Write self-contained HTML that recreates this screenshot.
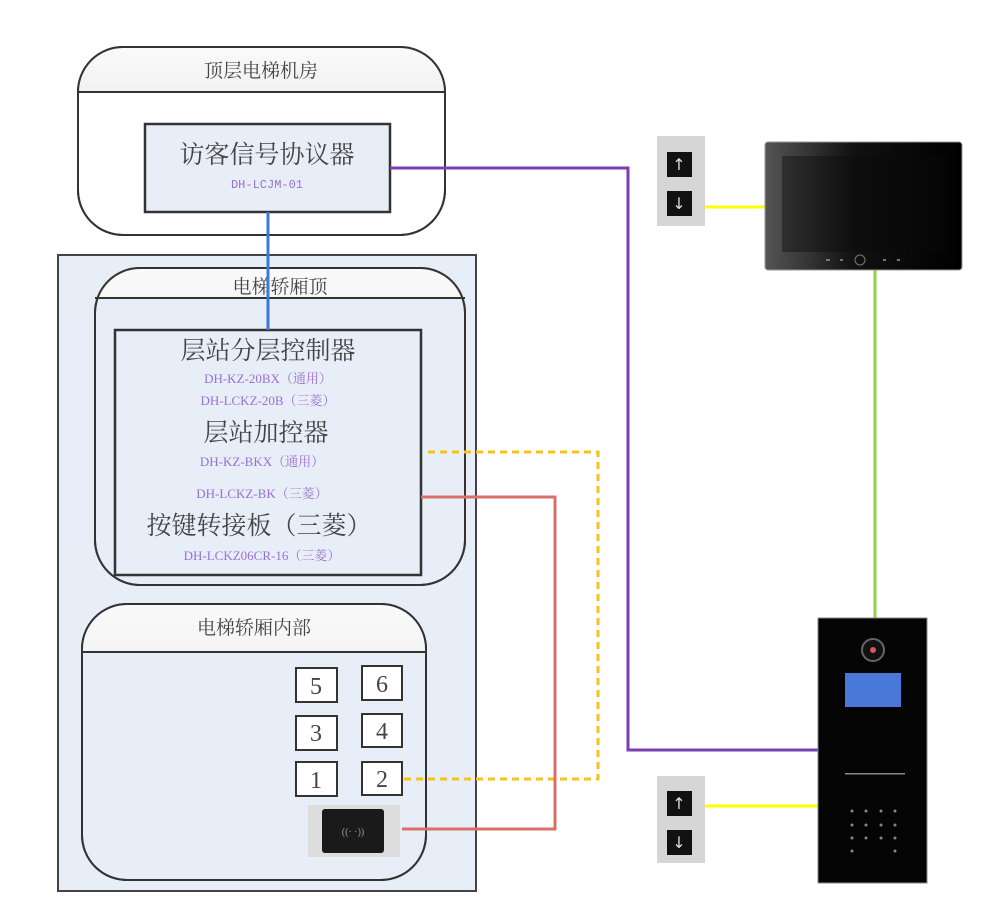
<!DOCTYPE html>
<html><head><meta charset="utf-8"><style>
body{margin:0;background:#fff;width:1001px;height:909px;overflow:hidden;font-family:"Liberation Serif","Noto Serif CJK SC",serif}
</style></head><body>
<svg width="1001" height="909" xmlns="http://www.w3.org/2000/svg" style="position:absolute;left:0;top:0">
<defs>
<linearGradient id="hg" x1="0" y1="0" x2="0" y2="1"><stop offset="0" stop-color="#fafafa"/><stop offset="1" stop-color="#d6d6d6"/></linearGradient>
<linearGradient id="mon" x1="0" y1="0" x2="1" y2="0"><stop offset="0" stop-color="#555"/><stop offset="0.45" stop-color="#111"/><stop offset="1" stop-color="#000"/></linearGradient>
<clipPath id="c1"><rect x="78" y="47" width="367" height="45"/></clipPath>
<clipPath id="c2"><rect x="95" y="268" width="370" height="30"/></clipPath>
<clipPath id="c3"><rect x="82" y="604" width="344" height="48"/></clipPath>
</defs>
<g font-family="Liberation Serif, Noto Serif CJK SC, serif">
<!-- top room -->
<rect x="78" y="47" width="367" height="188" rx="45" fill="#fff" stroke="#333" stroke-width="2"/>
<rect x="78" y="47" width="367" height="188" rx="45" fill="url(#hg)" clip-path="url(#c1)"/>
<rect x="78" y="47" width="367" height="188" rx="45" fill="none" stroke="#333" stroke-width="2"/>
<line x1="78" y1="92" x2="445" y2="92" stroke="#333" stroke-width="2"/>
<text x="261" y="77" font-size="19" text-anchor="middle" fill="#444">顶层电梯机房</text>
<rect x="145" y="124" width="245" height="88" fill="#e8eef7" stroke="#333" stroke-width="2.5"/>
<text x="267" y="163" font-size="25" text-anchor="middle" fill="#444">访客信号协议器</text>
<text x="267" y="188" font-size="12" text-anchor="middle" fill="#9a70d0" font-family="Liberation Mono, monospace">DH-LCJM-01</text>
<!-- big panel -->
<rect x="58" y="255" width="418" height="636" fill="#e7eef8" stroke="#444" stroke-width="2"/>
<rect x="95" y="268" width="370" height="317" rx="45" fill="#e7eef8" stroke="#333" stroke-width="2"/>
<rect x="95" y="268" width="370" height="317" rx="45" fill="url(#hg)" clip-path="url(#c2)"/>
<rect x="95" y="268" width="370" height="317" rx="45" fill="none" stroke="#333" stroke-width="2"/>
<line x1="95" y1="298" x2="465" y2="298" stroke="#333" stroke-width="2"/>
<text x="280" y="293" font-size="19" text-anchor="middle" fill="#444">电梯轿厢顶</text>
<rect x="115" y="330" width="306" height="245" fill="#e7eef8" stroke="#333" stroke-width="2.5"/>
<text x="268" y="359" font-size="25" text-anchor="middle" fill="#444">层站分层控制器</text>
<text x="268" y="383" font-size="13" text-anchor="middle" fill="#9a70d0">DH-KZ-20BX（通用）</text>
<text x="268" y="405" font-size="13" text-anchor="middle" fill="#9a70d0">DH-LCKZ-20B（三菱）</text>
<text x="266" y="441" font-size="25" text-anchor="middle" fill="#444">层站加控器</text>
<text x="262" y="466" font-size="13" text-anchor="middle" fill="#9a70d0">DH-KZ-BKX（通用）</text>
<text x="262" y="498" font-size="13" text-anchor="middle" fill="#9a70d0">DH-LCKZ-BK（三菱）</text>
<text x="259" y="534" font-size="25" text-anchor="middle" fill="#444">按键转接板（三菱）</text>
<text x="262" y="560" font-size="13" text-anchor="middle" fill="#9a70d0">DH-LCKZ06CR-16（三菱）</text>
<!-- car interior -->
<rect x="82" y="604" width="344" height="276" rx="45" fill="#e7eef8" stroke="#333" stroke-width="2"/>
<rect x="82" y="604" width="344" height="276" rx="45" fill="url(#hg)" clip-path="url(#c3)"/>
<rect x="82" y="604" width="344" height="276" rx="45" fill="none" stroke="#333" stroke-width="2"/>
<line x1="82" y1="652" x2="426" y2="652" stroke="#333" stroke-width="2"/>
<text x="254" y="634" font-size="19" text-anchor="middle" fill="#444">电梯轿厢内部</text>
<g fill="#fff" stroke="#333" stroke-width="2">
<rect x="296" y="668" width="41" height="34"/><rect x="362" y="666" width="40" height="34"/>
<rect x="296" y="716" width="41" height="34"/><rect x="362" y="714" width="40" height="33"/>
<rect x="296" y="762" width="41" height="34"/><rect x="362" y="762" width="40" height="33"/>
</g>
<g font-size="24" text-anchor="middle" fill="#444">
<text x="316" y="694">5</text><text x="382" y="692">6</text>
<text x="316" y="741">3</text><text x="382" y="739">4</text>
<text x="316" y="788">1</text><text x="382" y="787">2</text>
</g>
<rect x="308" y="805" width="92" height="52" fill="#ddd"/>
<rect x="322" y="809" width="62" height="44" rx="3" fill="#1a1a1a"/>
<text x="353" y="835" font-size="10" fill="#999" text-anchor="middle">((· ·))</text>
<!-- connectors -->
<line x1="268" y1="212" x2="268" y2="330" stroke="#3b7bd6" stroke-width="3"/>
<polyline points="390,168 628,168 628,750 818,750" fill="none" stroke="#7a3fb0" stroke-width="3"/>
<polyline points="428,452 598,452 598,779 402,779" fill="none" stroke="#f7c21c" stroke-width="3" stroke-dasharray="7,5"/>
<polyline points="421,497 555,497 555,829 402,829" fill="none" stroke="#d87068" stroke-width="3"/>
<line x1="705" y1="207" x2="765" y2="207" stroke="#ffff00" stroke-width="3"/>
<line x1="705" y1="806" x2="818" y2="806" stroke="#ffff00" stroke-width="3"/>
<line x1="875" y1="270" x2="875" y2="618" stroke="#8fd14f" stroke-width="3"/>
<!-- up/down panels -->
<g>
<rect x="657" y="136" width="48" height="90" fill="#d6d6d6"/>
<rect x="667" y="152" width="25" height="25" fill="#111"/><rect x="667" y="191" width="25" height="25" fill="#111"/>
<text x="679" y="170" font-size="16" fill="#ddd" text-anchor="middle" font-family="DejaVu Sans">↑</text>
<text x="679" y="209" font-size="16" fill="#ddd" text-anchor="middle" font-family="DejaVu Sans">↓</text>
<rect x="657" y="776" width="48" height="87" fill="#d6d6d6"/>
<rect x="667" y="791" width="25" height="25" fill="#111"/><rect x="667" y="830" width="25" height="25" fill="#111"/>
<text x="679" y="809" font-size="16" fill="#ddd" text-anchor="middle" font-family="DejaVu Sans">↑</text>
<text x="679" y="848" font-size="16" fill="#ddd" text-anchor="middle" font-family="DejaVu Sans">↓</text>
</g>
<!-- monitor -->
<rect x="765" y="142" width="197" height="128" rx="3" fill="url(#mon)" stroke="#999"/>
<rect x="782" y="156" width="165" height="96" fill="#0a0a0a" opacity="0.4"/>
<circle cx="860" cy="260" r="5" fill="none" stroke="#777"/>
<g fill="#777"><rect x="826" y="259" width="4" height="2"/><rect x="840" y="259" width="3" height="2"/><rect x="883" y="259" width="3" height="2"/><rect x="897" y="259" width="3" height="2"/></g>
<!-- door station -->
<rect x="818" y="618" width="109" height="265" fill="#050505" stroke="#888"/>
<circle cx="873" cy="650" r="11" fill="#111" stroke="#666" stroke-width="2"/>
<circle cx="873" cy="650" r="3" fill="#d55"/>
<rect x="845" y="673" width="56" height="34" fill="#4a78d8"/>
<g fill="#888">
<circle cx="852" cy="811" r="1.5"/><circle cx="866" cy="811" r="1.5"/><circle cx="881" cy="811" r="1.5"/><circle cx="895" cy="811" r="1.5"/>
<circle cx="852" cy="825" r="1.5"/><circle cx="866" cy="825" r="1.5"/><circle cx="881" cy="825" r="1.5"/><circle cx="895" cy="825" r="1.5"/>
<circle cx="852" cy="838" r="1.5"/><circle cx="866" cy="838" r="1.5"/><circle cx="881" cy="838" r="1.5"/><circle cx="895" cy="838" r="1.5"/>
<circle cx="852" cy="851" r="1.5"/><circle cx="895" cy="851" r="1.5"/>
<rect x="845" y="773" width="60" height="1.5"/>
</g>
</g>
</svg>
</body></html>
